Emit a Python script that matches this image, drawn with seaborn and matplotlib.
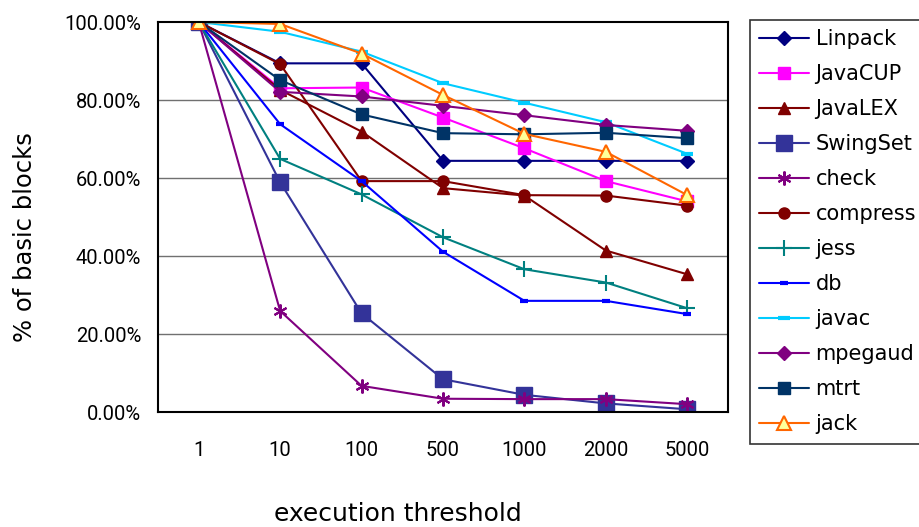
import matplotlib
matplotlib.use("Agg")
import matplotlib.pyplot as plt
import seaborn as sns
import pandas as pd

thresholds = ["1", "10", "100", "500", "1000", "2000", "5000"]

linpack  = [100, 89.4, 89.4, 64.4, 64.4, 64.4, 64.4]
javacup  = [100, 83.0, 83.2, 75.5, 67.6, 59.2, 54.0]
javalex  = [100, 82.6, 71.9, 57.4, 55.5, 41.4, 35.3]
swingset = [100, 58.9, 25.3, 8.4, 4.4, 2.2, 0.7]
check    = [100, 25.9, 6.7, 3.4, 3.3, 3.3, 2.0]
compress = [100, 89.2, 59.2, 59.2, 55.6, 55.5, 52.9]
jess     = [100, 64.9, 55.8, 44.8, 36.6, 33.2, 26.6]
db       = [100, 73.8, 59.2, 41.1, 28.5, 28.5, 25.1]
javac    = [100, 97.5, 92.4, 84.3, 79.3, 74.3, 66.2]
mpegaud  = [100, 82.1, 80.9, 78.5, 76.1, 73.6, 72.1]
mtrt     = [100, 85.1, 76.3, 71.5, 71.2, 71.6, 70.2]
jack     = [100, 99.5, 91.9, 81.3, 71.3, 66.7, 55.6]

series = [
    ("Linpack", linpack), ("JavaCUP", javacup), ("JavaLEX", javalex),
    ("SwingSet", swingset), ("check", check), ("compress", compress),
    ("jess", jess), ("db", db), ("javac", javac), ("mpegaud", mpegaud),
    ("mtrt", mtrt), ("jack", jack),
]

styles = {
    "Linpack":  dict(color="#000080", marker="D", ms=7, mfc="#000080", mec="#000080", mew=1),
    "JavaCUP":  dict(color="#FF00FF", marker="s", ms=8, mfc="#FF00FF", mec="#FF00FF", mew=1),
    "JavaLEX":  dict(color="#800000", marker="^", ms=9, mfc="#800000", mec="#800000", mew=1),
    "SwingSet": dict(color="#333399", marker="s", ms=12, mfc="#333399", mec="#333399", mew=1),
    "check":    dict(color="#800080", marker=(6, 2, 0), ms=10, mfc="#800080", mec="#800080", mew=1.5),
    "compress": dict(color="#800000", marker="o", ms=8, mfc="#800000", mec="#800000", mew=1),
    "jess":     dict(color="#008080", marker="+", ms=11, mfc="#008080", mec="#008080", mew=1.5),
    "db":       dict(color="#0000FF", marker="_", ms=6, mfc="#0000FF", mec="#0000FF", mew=3),
    "javac":    dict(color="#00CCFF", marker="_", ms=8, mfc="#00CCFF", mec="#00CCFF", mew=3),
    "mpegaud":  dict(color="#800080", marker="D", ms=7, mfc="#800080", mec="#800080", mew=1),
    "mtrt":     dict(color="#003366", marker="s", ms=8, mfc="#003366", mec="#003366", mew=1),
    "jack":     dict(color="#FF6600", marker="^", ms=10, mfc="#FFFF99", mec="#FF6600", mew=1.5),
}

sns.set_theme(style="white")
plt.rcParams["font.family"] = ["DejaVu Sans"]
plt.rcParams["text.color"] = "black"
plt.rcParams["axes.labelcolor"] = "black"
plt.rcParams["xtick.color"] = "black"
plt.rcParams["ytick.color"] = "black"

fig = plt.figure(figsize=(9.2, 5.27), dpi=100)
ax = fig.add_axes([158/920, 1-412/527, 570/920, 390/527])

for name, vals in series:
    df = pd.DataFrame({"threshold": thresholds, "value": vals})
    st = styles[name]
    sns.lineplot(data=df, x="threshold", y="value", ax=ax, sort=False,
                 color=st["color"], marker=st["marker"], markersize=st["ms"],
                 markerfacecolor=st["mfc"], markeredgecolor=st["mec"],
                 markeredgewidth=st["mew"], linewidth=1.5, label=name)

tick_font = dict(family="Roboto", size=14.5)
ax.set_xlim(-0.5, 6.5)
ax.set_ylim(0, 100)
ax.set_yticks([0, 20, 40, 60, 80, 100])
ax.set_yticklabels([f"{v:.2f}%" for v in [0, 20, 40, 60, 80, 100]], fontdict=tick_font)
ax.set_xticks(range(7))
ax.set_xticklabels(thresholds, fontdict=tick_font)
ax.set_xticks([i + 0.5 for i in range(-1, 7)], minor=True)
ax.tick_params(axis="x", which="major", length=0, pad=21, labelcolor="black")
ax.tick_params(axis="x", which="minor", length=7, direction="in", color="#404040", width=1.2)
ax.tick_params(axis="y", which="major", length=7, direction="in", color="#404040", width=1.2,
               pad=12, labelcolor="black")
for y in [20, 40, 60, 80]:
    ax.axhline(y, color="#707070", linewidth=1, zorder=0)
for sp in ax.spines.values():
    sp.set_visible(True)
    sp.set_color("black")
    sp.set_linewidth(1.5)

ax.set_xlabel("execution threshold", fontsize=18, va="top", color="black")
ax.xaxis.set_label_coords((398-158)/570, (412-502)/390)
ax.set_ylabel("% of basic blocks", fontsize=17.5, va="bottom", color="black")
ax.yaxis.set_label_coords((37-158)/570, (412-237)/390)

leg = ax.legend(loc="upper left", bbox_to_anchor=(750/920, 1-20/527),
                bbox_transform=fig.transFigure, prop=dict(family="DejaVu Sans", size=15),
                frameon=True, fancybox=False, edgecolor="black", handlelength=2.4,
                labelspacing=0.72, borderpad=0.45, handletextpad=0.3,
                borderaxespad=0, labelcolor="black")
leg.get_frame().set_linewidth(1.2)

fig.savefig("out.png", dpi=100)
